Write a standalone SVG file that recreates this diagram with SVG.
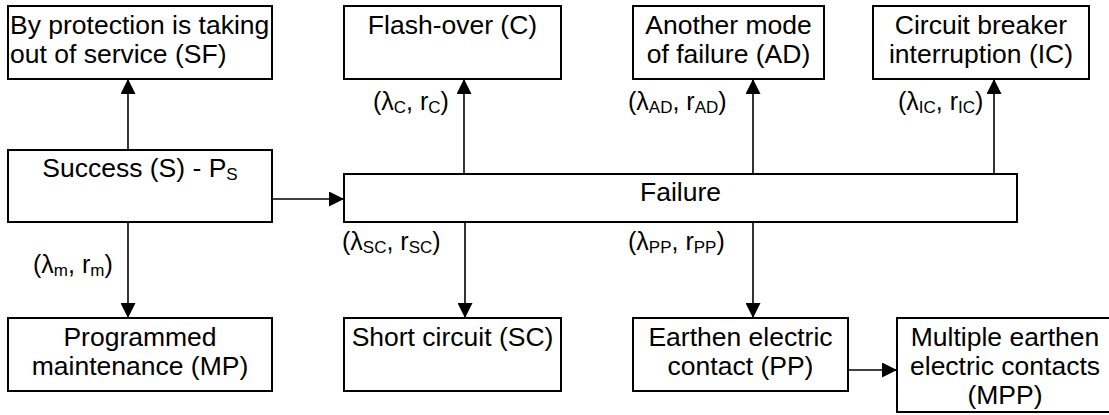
<svg xmlns="http://www.w3.org/2000/svg" width="1109" height="415" viewBox="0 0 1109 415">
<style>
  .box { fill: #ffffff; stroke: #000000; stroke-width: 2; }
  .t { font-family: "Liberation Sans", Arial, sans-serif; font-size: 26.5px; fill: #000000; }
  .c { text-anchor: middle; }
  .lbl { font-family: "Liberation Sans", Arial, sans-serif; font-size: 25px; fill: #000000; }
  .sub { font-size: 17px; }
  .conn { fill: none; stroke: #000000; stroke-width: 1.6; marker-end: url(#arrow); }
</style>
<defs>
  <marker id="arrow" markerUnits="userSpaceOnUse" markerWidth="15" markerHeight="15" refX="15" refY="7.5" orient="auto">
    <path d="M0,0 L15,7.5 L0,15 Z" fill="#000000"/>
  </marker>
</defs>
<rect width="1109" height="415" fill="#ffffff"/>

<g id="connectors">
  <path class="conn" d="M128,150 V79"/>
  <path class="conn" d="M272,199 H344"/>
  <path class="conn" d="M464,174 V79"/>
  <path class="conn" d="M753,174 V79"/>
  <path class="conn" d="M994,174 V79"/>
  <path class="conn" d="M128,222 V318"/>
  <path class="conn" d="M465,222 V318"/>
  <path class="conn" d="M753,222 V318"/>
  <path class="conn" d="M848,370 H897"/>
</g>

<g id="node-SF">
  <rect class="box" x="8" y="6" width="264" height="73"/>
  <text class="t" x="10" y="33.5">By protection is taking</text>
  <text class="t" x="10" y="63">out of service (SF)</text>
</g>

<g id="node-C">
  <rect class="box" x="344" y="6" width="217" height="73"/>
  <text class="t c" x="452.5" y="33.5">Flash-over (C)</text>
</g>

<g id="node-AD">
  <rect class="box" x="633" y="6" width="191" height="73"/>
  <text class="t c" x="728.5" y="33.5">Another mode</text>
  <text class="t c" x="728.5" y="63">of failure (AD)</text>
</g>

<g id="node-IC">
  <rect class="box" x="873" y="6" width="216" height="73"/>
  <text class="t c" x="981" y="33.5">Circuit breaker</text>
  <text class="t c" x="981" y="63">interruption (IC)</text>
</g>

<g id="node-S">
  <rect class="box" x="8" y="150" width="264" height="72"/>
  <text class="t c" x="140" y="177">Success (S) - P<tspan class="sub" dy="3">S</tspan></text>
</g>

<g id="node-F">
  <rect class="box" x="344" y="174" width="673" height="48"/>
  <text class="t c" x="680.5" y="201">Failure</text>
</g>

<g id="node-MP">
  <rect class="box" x="8" y="318" width="264" height="73"/>
  <text class="t c" x="140" y="345.5">Programmed</text>
  <text class="t c" x="140" y="375">maintenance (MP)</text>
</g>

<g id="node-SC">
  <rect class="box" x="344" y="318" width="217" height="73"/>
  <text class="t c" x="452.5" y="345.5">Short circuit (SC)</text>
</g>

<g id="node-PP">
  <rect class="box" x="633" y="318" width="215" height="73"/>
  <text class="t c" x="740.5" y="345.5">Earthen electric</text>
  <text class="t c" x="740.5" y="375">contact (PP)</text>
</g>

<g id="node-MPP">
  <rect class="box" x="897" y="318" width="216" height="94"/>
  <text class="t c" x="1005" y="345.5">Multiple earthen</text>
  <text class="t c" x="1005" y="375">electric contacts</text>
  <text class="t c" x="1005" y="404">(MPP)</text>
</g>

<g id="labels">
  <text class="lbl" x="373" y="110">(λ<tspan class="sub" dy="3">C</tspan><tspan dy="-3">, r</tspan><tspan class="sub" dy="3">C</tspan><tspan dy="-3">)</tspan></text>
  <text class="lbl" x="628" y="110">(λ<tspan class="sub" dy="3">AD</tspan><tspan dy="-3">, r</tspan><tspan class="sub" dy="3">AD</tspan><tspan dy="-3">)</tspan></text>
  <text class="lbl" x="898" y="110">(λ<tspan class="sub" dy="3">IC</tspan><tspan dy="-3">, r</tspan><tspan class="sub" dy="3">IC</tspan><tspan dy="-3">)</tspan></text>
  <text class="lbl" x="33" y="273">(λ<tspan class="sub" dy="3">m</tspan><tspan dy="-3">, r</tspan><tspan class="sub" dy="3">m</tspan><tspan dy="-3">)</tspan></text>
  <text class="lbl" x="342" y="250">(λ<tspan class="sub" dy="3">SC</tspan><tspan dy="-3">, r</tspan><tspan class="sub" dy="3">SC</tspan><tspan dy="-3">)</tspan></text>
  <text class="lbl" x="628" y="250">(λ<tspan class="sub" dy="3">PP</tspan><tspan dy="-3">, r</tspan><tspan class="sub" dy="3">PP</tspan><tspan dy="-3">)</tspan></text>
</g>
</svg>
